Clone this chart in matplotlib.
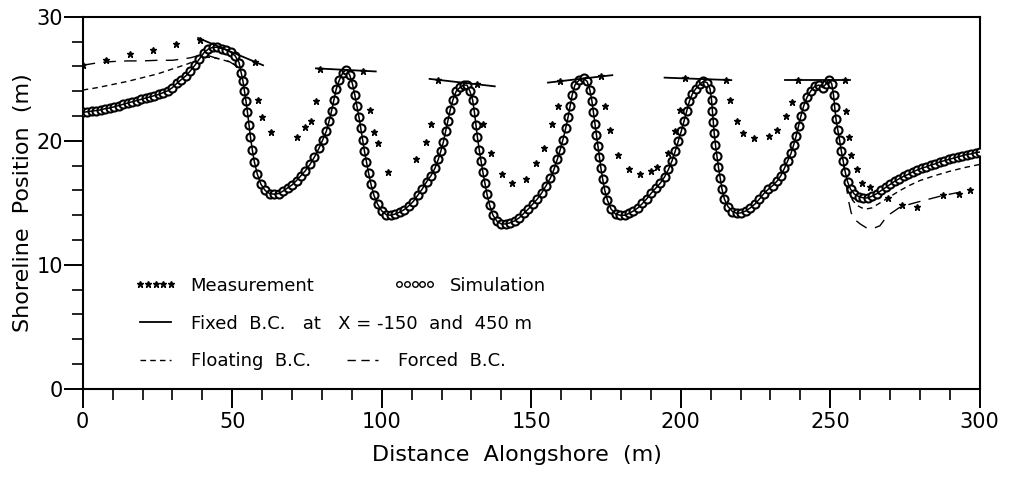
import matplotlib
matplotlib.use("Agg")
import matplotlib.pyplot as plt
from matplotlib.lines import Line2D
from matplotlib.ticker import MultipleLocator

plt.rcParams['font.family'] = ['DejaVu Sans']

# simulated shoreline (fixed B.C.)
sim_x = [0, 1.5, 3, 4.5, 6, 7.5, 9, 10.5, 12, 13.5, 15, 16.5, 18, 19.5, 21, 22.5, 24, 25.5, 27, 28.5,
         30, 31.5, 33, 34.5, 36, 37.5, 39, 40.5, 42, 43.5, 45, 46.5, 48, 49.5, 51, 52.3, 53, 53.6, 54.1, 54.6,
         55.1, 55.6, 56.1, 56.7, 57.4, 58.4, 59.6, 61, 62.5, 64, 65.5, 67, 68.5, 70, 71.5, 73, 74.5, 76, 77.5, 79,
         80.3, 81.5, 82.4, 83.2, 84, 84.8, 85.8, 87, 88.2, 89.3, 90.2, 91, 91.7, 92.4, 93, 93.6, 94.2, 94.9, 95.6, 96.4,
         97.4, 98.6, 100, 101.5, 103, 104.5, 106, 107.5, 109, 110.5, 112, 113.5, 115, 116.5, 117.8, 118.9, 119.8, 120.6, 121.4, 122.1,
         122.9, 123.8, 124.9, 126.3, 127.5, 128.5, 129.5, 130.4, 131, 131.5, 132, 132.6, 133.2, 133.8, 134.5, 135.2, 136.1, 137.2, 138.6, 140,
         141.5, 143, 144.5, 146, 147.5, 149, 150.5, 152, 153.5, 155, 156.4, 157.6, 158.7, 159.7, 160.6, 161.5, 162.3, 163, 163.7, 164.6,
         166, 167.5, 168.7, 169.6, 170.3, 170.8, 171.3, 171.8, 172.3, 172.8, 173.3, 173.9, 174.6, 175.5, 176.7, 178.2, 179.7, 181.2, 182.7, 184.2,
         185.7, 187.2, 188.7, 190.2, 191.7, 193.2, 194.6, 195.9, 197.1, 198.2, 199.2, 200.2, 201.1, 202, 202.9, 203.9, 205, 206.3, 207.6, 208.8,
         209.8, 210.3, 210.6, 210.9, 211.2, 211.6, 212.1, 212.6, 213.2, 213.8, 214.6, 215.8, 217.3, 218.8, 220.3, 221.8, 223.3, 224.8, 226.3, 227.8,
         229.3, 230.8, 232.2, 233.5, 234.7, 235.8, 236.9, 237.8, 238.6, 239.4, 240.2, 241.1, 242.2, 243.4, 244.8, 246.2, 247.5, 248.6, 249.6, 250.5,
         251.1, 251.5, 251.9, 252.5, 253.1, 253.7, 254.3, 255, 255.8, 256.8, 258.1, 259.6, 261.1, 262.6, 264.1, 265.6, 267.1, 268.6, 270.1, 271.6,
         273.1, 274.6, 276.1, 277.6, 279.1, 280.6, 282.1, 283.6, 285.1, 286.6, 288.1, 289.6, 291.1, 292.6, 294.1, 295.6, 297.1, 298.6, 300]
sim_y = [22.3, 22.35, 22.4, 22.45, 22.5, 22.6, 22.65, 22.75, 22.85, 22.95, 23.05, 23.15, 23.25, 23.35, 23.45, 23.55, 23.65, 23.75, 23.9, 24.05,
         24.3, 24.65, 24.95, 25.25, 25.65, 26.1, 26.6, 27.1, 27.4, 27.55, 27.55, 27.45, 27.35, 27.15, 26.85, 26.3, 25.5, 24.8, 24.0, 23.2,
         22.3, 21.3, 20.3, 19.3, 18.3, 17.3, 16.5, 16.0, 15.75, 15.7, 15.75, 15.95, 16.2, 16.45, 16.8, 17.2, 17.6, 18.1, 18.7, 19.4,
         20.1, 20.8, 21.6, 22.4, 23.3, 24.2, 24.9, 25.5, 25.75, 25.3, 24.6, 23.7, 22.8, 21.9, 21.0, 20.1, 19.2, 18.3, 17.4, 16.5,
         15.6, 14.9, 14.35, 14.05, 14.0, 14.1, 14.25, 14.45, 14.75, 15.1, 15.6, 16.1, 16.7, 17.2, 17.8, 18.5, 19.2, 19.9, 20.8, 21.6,
         22.5, 23.3, 24.0, 24.35, 24.5, 24.5, 24.0, 23.3, 22.3, 21.3, 20.3, 19.3, 18.4, 17.5, 16.6, 15.7, 14.8, 14.0, 13.5, 13.3,
         13.3, 13.4, 13.55, 13.8, 14.15, 14.5, 14.9, 15.3, 15.8, 16.4, 17.0, 17.7, 18.5, 19.3, 20.1, 21.0, 21.9, 22.8, 23.7, 24.5,
         24.9, 25.05, 24.8, 24.1, 23.2, 22.3, 21.4, 20.5, 19.6, 18.7, 17.8, 16.9, 16.0, 15.2, 14.5, 14.1, 14.0, 14.0, 14.15, 14.35,
         14.6, 14.95, 15.35, 15.8, 16.2, 16.6, 17.1, 17.7, 18.4, 19.2, 20.0, 20.8, 21.6, 22.4, 23.2, 23.8, 24.2, 24.55, 24.8, 24.7,
         24.2, 23.3, 22.4, 21.5, 20.6, 19.7, 18.8, 17.9, 17.0, 16.1, 15.3, 14.7, 14.3, 14.15, 14.2, 14.35, 14.6, 14.9, 15.3, 15.75,
         16.1, 16.4, 16.75, 17.2, 17.8, 18.4, 19.0, 19.7, 20.4, 21.2, 22.0, 22.8, 23.5, 24.0, 24.4, 24.5, 24.3, 24.6, 24.95, 24.6,
         23.7, 22.7, 21.8, 20.9, 20.1, 19.2, 18.4, 17.5, 16.7, 16.1, 15.7, 15.5, 15.4, 15.4, 15.55, 15.75, 16.0, 16.25, 16.5, 16.75,
         16.95, 17.15, 17.3, 17.5, 17.65, 17.8, 17.9, 18.05, 18.15, 18.3, 18.4, 18.5, 18.6, 18.7, 18.8, 18.9, 18.95, 19.05, 19.1]

# floating / forced B.C. only differ from the fixed one near the ends
float_left_x = [0, 5, 10, 15, 20, 25, 30, 35, 38, 40, 42, 44, 46, 48, 50, 52, 53]
float_left_y = [24.1, 24.3, 24.55, 24.8, 25.1, 25.4, 25.8, 26.2, 26.5, 26.7, 26.75, 26.7, 26.6, 26.45, 26.3, 25.9, 25.4]
float_right_x = [254.3, 255, 256, 257.5, 259, 260.5, 262, 264, 266, 268, 270, 273, 276, 280, 285, 290, 295, 300]
float_right_y = [18.4, 17.2, 16.0, 15.2, 14.8, 14.6, 14.5, 14.6, 14.9, 15.2, 15.5, 15.95, 16.35, 16.8, 17.2, 17.55, 17.85, 18.1]

forced_left_x = [0, 5, 10, 15, 20, 25, 30, 33, 36, 39, 41, 43, 45, 47, 49, 51, 52.5, 53.3]
forced_left_y = [26.1, 26.3, 26.4, 26.45, 26.45, 26.5, 26.5, 26.6, 26.7, 26.9, 26.95, 26.8, 26.65, 26.55, 26.4, 26.1, 25.6, 24.9]
forced_right_x = [254.3, 255.2, 256, 257, 258, 260, 262, 263.5, 265, 266.6, 268, 270, 273, 276, 279, 283, 287, 292, 297]
forced_right_y = [18.4, 16.8, 15.3, 14.2, 13.7, 13.3, 13.0, 12.95, 13.0, 13.15, 13.6, 14.1, 14.6, 14.85, 15.05, 15.3, 15.55, 15.8, 16.0]

# measured shoreline
meas_x = [0, 7.9, 15.7, 23.5, 31.3, 39.1, 57.5, 58.6, 60, 62.8, 71.8, 74.2, 76.3, 78.1, 79.2, 93.7, 96, 97.3, 98.8, 102.1,
          111.4, 114.7, 116.6, 118.9, 131.8, 133.7, 136.4, 140.2, 143.4, 148.1, 151.5, 154.3, 157, 159, 159.5, 173.4, 174.6, 176.3, 179, 182.7,
          186.5, 190, 192.2, 195.8, 198, 199.7, 201.3, 215.3, 216.6, 218.8, 220.8, 224.4, 229.5, 232.2, 235.3, 237.3, 239.2, 254.9, 255.3, 256.2,
          257, 258.8, 260.6, 263.3, 269.2, 274.1, 279, 287.7, 293, 296.7]
meas_y = [26.1, 26.5, 27.0, 27.3, 27.8, 28.1, 26.4, 23.3, 21.9, 20.7, 20.3, 21.1, 21.6, 23.2, 25.8, 25.65, 22.5, 20.7, 19.8, 17.5,
          18.5, 19.9, 21.4, 24.95, 24.6, 21.4, 19.0, 17.3, 16.6, 16.9, 18.2, 19.4, 21.4, 22.8, 24.8, 25.2, 22.8, 20.9, 18.9, 17.7,
          17.3, 17.6, 17.9, 19.0, 20.8, 22.5, 25.05, 24.9, 23.3, 21.6, 20.6, 20.2, 20.4, 20.9, 22.0, 23.1, 24.9, 24.9, 22.4, 20.3,
          18.9, 17.7, 16.6, 16.3, 15.4, 14.8, 14.7, 15.6, 15.7, 16.0]

# headland orientation segments (start x, start y, end x, end y)
head_x0 = [38.6, 78.0, 116.0, 155.6, 194.6, 234.8]
head_y0 = [28.3, 25.85, 25.0, 24.7, 25.1, 24.9]
head_x1 = [60.3, 98.0, 137.8, 177.1, 216.9, 256.7]
head_y1 = [26.1, 25.6, 24.4, 25.3, 24.9, 24.9]

fig = plt.figure(figsize=(10.09, 4.83), dpi=100)
ax = fig.add_axes([0.082, 0.195, 0.889, 0.77])

ax.plot(sim_x, sim_y, ls='none', marker='o', ms=5.8, mfc='white', mec='black', mew=1.5, zorder=3)
ax.plot(sim_x, sim_y, color='black', lw=1.1, zorder=3.5)
ax.plot(float_left_x, float_left_y, color='black', lw=1.0, dashes=(4, 3), zorder=2)
ax.plot(float_right_x, float_right_y, color='black', lw=1.0, dashes=(4, 3), zorder=2)
ax.plot(forced_left_x, forced_left_y, color='black', lw=1.0, dashes=(9, 6), zorder=2)
ax.plot(forced_right_x, forced_right_y, color='black', lw=1.0, dashes=(9, 6), zorder=2)
for i in range(len(head_x0)):
    ax.plot([head_x0[i], head_x1[i]], [head_y0[i], head_y1[i]], color='black', lw=1.3, zorder=4)
ax.plot(meas_x, meas_y, ls='none', marker='*', ms=5, color='black', zorder=5)

ax.set_xlim(0, 300)
ax.set_ylim(0, 30)
ax.xaxis.set_major_locator(MultipleLocator(50))
ax.xaxis.set_minor_locator(MultipleLocator(10))
ax.yaxis.set_major_locator(MultipleLocator(10))
ax.yaxis.set_minor_locator(MultipleLocator(2))
ax.tick_params(which='major', direction='out', length=14, width=1.4, labelsize=15)
ax.tick_params(which='minor', direction='out', length=8, width=1.2)
ax.tick_params(axis='y', which='major', pad=0)
ax.tick_params(axis='x', which='major', pad=3)
for s in ax.spines.values():
    s.set_linewidth(1.5)

ax.set_xlabel('Distance  Alongshore  (m)', fontsize=16)
ax.set_ylabel('Shoreline  Position  (m)', fontsize=16)
ax.xaxis.set_label_coords(0.484, -0.15)
ax.yaxis.set_label_coords(-0.056, 0.5)

# legend, three rows as in the original
h_meas = Line2D([], [], ls='none', marker='*', ms=5, color='black')
h_sim = Line2D([], [], ls='none', marker='o', ms=4, mfc='white', mec='black', mew=1.0)
h_fix = Line2D([], [], color='black', lw=1.3)
h_float = Line2D([], [], color='black', lw=1.0, dashes=(4, 3))
h_forced = Line2D([], [], color='black', lw=1.0, dashes=(6, 4))

common = dict(frameon=False, borderpad=0, borderaxespad=0, loc='center left',
              handlelength=2.3, handletextpad=0.8, fontsize=13, numpoints=5)
leg1 = ax.legend([h_meas, h_sim], ['Measurement', 'Simulation'], ncol=2, columnspacing=4.4,
                 bbox_to_anchor=(0.058, 0.277), **common)
ax.add_artist(leg1)
leg2 = ax.legend([h_fix], ['Fixed  B.C.   at   X = -150  and  450 m'],
                 bbox_to_anchor=(0.058, 0.175), **common)
ax.add_artist(leg2)
ax.legend([h_float, h_forced], ['Floating  B.C.', 'Forced  B.C.'], ncol=2, columnspacing=1.7,
          bbox_to_anchor=(0.058, 0.075), **common)

fig.savefig('out.png', dpi=100)
